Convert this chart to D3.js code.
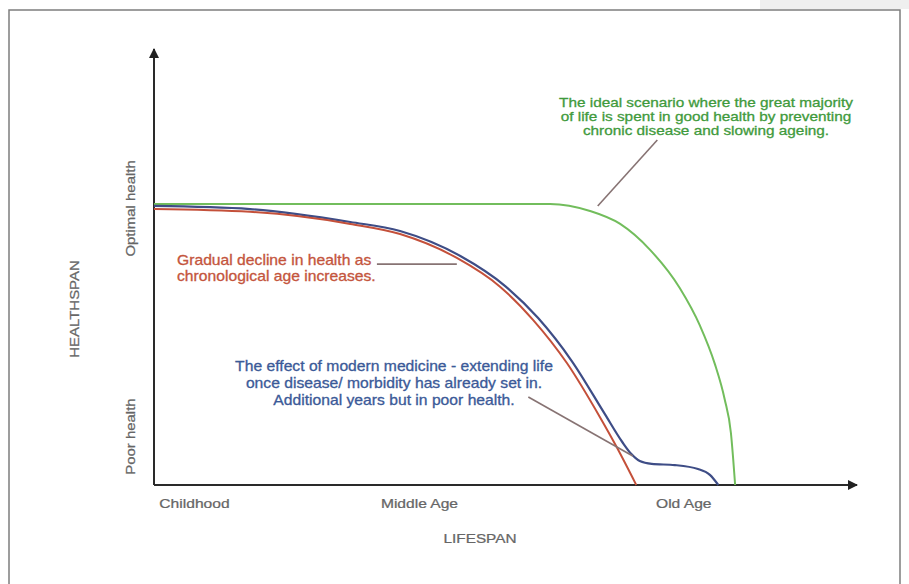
<!DOCTYPE html>
<html>
<head>
<meta charset="utf-8">
<script src="https://cdn.jsdelivr.net/npm/d3@7"></script>
<style>
  body { margin: 0; background: #fff; }
  svg { display: block; font-family: "Liberation Sans", Arial, Helvetica, sans-serif; }
</style>
</head>
<body>
<div id="chart"></div>
<script>
// Curves: lifespan (0-100) vs health (0-100)
const idealCurve = [
  [0, 100], [56.5, 100], [62.2, 97.5], [66.5, 92.9], [70.8, 83.6],
  [75.0, 70.1], [77.9, 56.6], [80.0, 43.1], [81.4, 30.6], [82.3, 18.5],
  [82.9, 0]
];
const declineCurve = [
  [0, 98.2], [13.7, 97.2], [28.0, 92.9], [35.1, 89.3], [43.2, 80.8],
  [49.4, 70.5], [54.1, 58.7], [58.9, 43.4], [63.6, 24.2], [66.0, 13.5], [68.8, 0]
];
const medicineCurve = [
  [0, 99.3], [13.7, 98.2], [28.0, 93.6], [35.1, 90.4], [43.7, 81.5],
  [50.1, 70.8], [54.8, 59.4], [59.6, 44.1], [64.3, 25.3], [66.8, 15.3],
  [68.1, 11.0], [69.3, 8.5], [71.0, 7.5], [74.3, 7.1], [77.6, 5.7],
  [79.3, 3.6], [80.5, 0]
];

// Axis labels
const stageLabels = ["Childhood", "Middle Age", "Old Age"];
const stageValues = [5.7, 37.8, 75.5];
const healthLabels = ["Optimal health", "Poor health"];
const healthValues = [98.6, 17.4];

// Notes and the point on the curve each one points at
const idealNote = ["The ideal scenario where the great majority",
  "of life is spent in good health by preventing",
  "chronic disease and slowing ageing."];
const declineNote = ["Gradual decline in health as", "chronological age increases."];
const medicineNote = ["The effect of modern medicine - extending life",
  "once disease/ morbidity has already set in.",
  "Additional years but in poor health."];
const idealLeader = [[71.8, 122.8], [63.3, 99.3]];
const declineLeader = [[31.8, 78.6], [43.2, 78.6]];
const medicineLeader = [[53.4, 31.3], [68.3, 10.3]];

const W = 909, H = 584;
const x0 = 154, y0 = 485;

const svg = d3.select("#chart").append("svg")
  .attr("width", W)
  .attr("height", H);

// picture frame
svg.append("rect")
  .attr("x", 760).attr("y", 0).attr("width", 149).attr("height", 9)
  .attr("fill", "#efefef");
svg.append("rect")
  .attr("x", 9).attr("y", 10)
  .attr("width", 891).attr("height", 600)
  .attr("fill", "#fff")
  .attr("stroke", "#7d7d7d")
  .attr("stroke-width", 1.5);

const x = d3.scaleLinear().domain([0, 100]).range([x0, x0 + 701]);
const y = d3.scaleLinear().domain([0, 100]).range([y0, 204]);

const line = d3.line()
  .x(d => x(d[0]))
  .y(d => y(d[1]))
  .curve(d3.curveMonotoneX);

// arrow marker
const defs = svg.append("defs");
defs.append("marker")
  .attr("id", "arrow")
  .attr("viewBox", "0 0 10 10")
  .attr("refX", 9).attr("refY", 5)
  .attr("markerWidth", 5).attr("markerHeight", 5)
  .attr("orient", "auto")
  .append("path")
  .attr("d", "M0,0L10,5L0,10z")
  .attr("fill", "#222");

// axes lines with arrows
svg.append("line")
  .attr("x1", x0).attr("y1", y0)
  .attr("x2", x0).attr("y2", 49)
  .attr("stroke", "#2a2a2a").attr("stroke-width", 2)
  .attr("marker-end", "url(#arrow)");
svg.append("line")
  .attr("x1", x0).attr("y1", y0)
  .attr("x2", x(100) + 2).attr("y2", y0)
  .attr("stroke", "#2a2a2a").attr("stroke-width", 2)
  .attr("marker-end", "url(#arrow)");

// tick labels through the axis generators
const xAxis = svg.append("g")
  .attr("transform", `translate(0,${y0})`)
  .call(d3.axisBottom(x)
    .tickValues(stageValues)
    .tickFormat((d, i) => stageLabels[i])
    .tickSize(0)
    .tickPadding(14));
xAxis.select(".domain").remove();
xAxis.selectAll("text")
  .attr("fill", "#666")
  .attr("stroke", "#666").attr("stroke-width", 0.25)
  .attr("transform", "scale(1.2,1)")
  .style("font-size", "13px")
  .style("font-family", "inherit");

const yAxis = svg.append("g")
  .attr("transform", `translate(${x0},0)`)
  .call(d3.axisLeft(y)
    .tickValues(healthValues)
    .tickFormat((d, i) => healthLabels[i])
    .tickSize(0));
yAxis.select(".domain").remove();
yAxis.selectAll("text")
  .attr("fill", "#666")
  .attr("stroke", "#666").attr("stroke-width", 0.25)
  .attr("x", 0).attr("dy", 0)
  .attr("text-anchor", "middle")
  .attr("transform", "translate(-19,0) rotate(-90) scale(1.15,1)")
  .style("font-size", "13px")
  .style("font-family", "inherit");

// axis titles
svg.append("text")
  .attr("transform", "translate(480,543) scale(1.18,1)")
  .attr("text-anchor", "middle")
  .attr("fill", "#666").attr("stroke", "#666").attr("stroke-width", 0.25)
  .style("font-size", "13px")
  .text("LIFESPAN");
svg.append("text")
  .attr("transform", "translate(79,309) rotate(-90) scale(1.15,1)")
  .attr("text-anchor", "middle")
  .attr("fill", "#666").attr("stroke", "#666").attr("stroke-width", 0.25)
  .style("font-size", "13px")
  .text("HEALTHSPAN");

// curves
svg.append("path")
  .datum(idealCurve)
  .attr("d", line)
  .attr("fill", "none")
  .attr("stroke", "#72bd5c")
  .attr("stroke-width", 2);
svg.append("path")
  .datum(medicineCurve)
  .attr("d", line)
  .attr("fill", "none")
  .attr("stroke", "#3e4d86")
  .attr("stroke-width", 2.2);
svg.append("path")
  .datum(declineCurve)
  .attr("d", line)
  .attr("fill", "none")
  .attr("stroke", "#c4503a")
  .attr("stroke-width", 2);

// leader lines
[idealLeader, declineLeader, medicineLeader].forEach(seg => {
  svg.append("line")
    .attr("x1", x(seg[0][0])).attr("y1", y(seg[0][1]))
    .attr("x2", x(seg[1][0])).attr("y2", y(seg[1][1]))
    .attr("stroke", "#877373")
    .attr("stroke-width", 1.6);
});

// notes (text is a bit wider than Liberation Sans, so stretch it)
function note(lines, px, py, step, anchor, color, size, sx) {
  const t = svg.append("text")
    .attr("transform", `translate(${px},${py}) scale(${sx},1)`)
    .attr("text-anchor", anchor)
    .attr("fill", color)
    .attr("stroke", color)
    .attr("stroke-width", 0.3)
    .style("font-size", size + "px");
  lines.forEach((s, i) => {
    t.append("tspan")
      .attr("x", 0)
      .attr("y", i * step)
      .text(s);
  });
}
note(idealNote, 706, 107, 14, "middle", "#3f9a3c", 13, 1.18);
note(declineNote, 177, 265, 16, "start", "#c4553d", 14, 1.12);
note(medicineNote, 394, 371, 17, "middle", "#3b5a98", 14, 1.12);
</script>
</body>
</html>
